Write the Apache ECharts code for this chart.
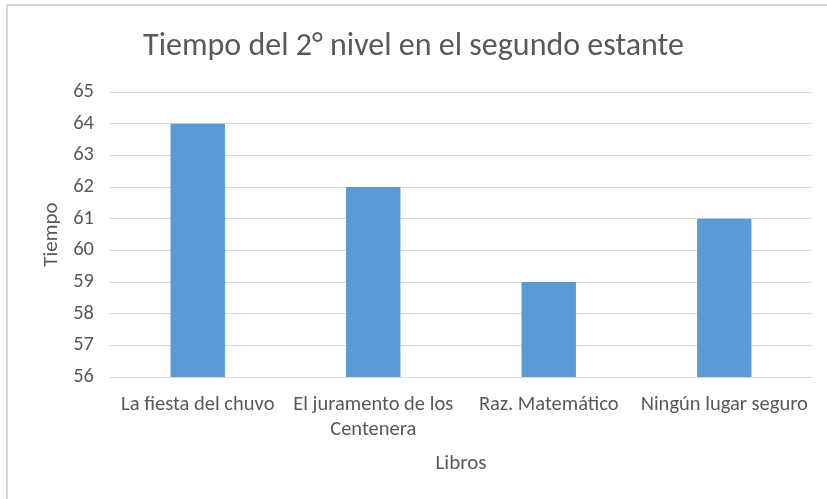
<!DOCTYPE html>
<html>
<head>
<meta charset="utf-8">
<script src="https://cdn.jsdelivr.net/npm/echarts@6/dist/echarts.min.js"></script>
<style>
html,body{margin:0;padding:0;background:#fff;}
#chart{width:827px;height:499px;}
</style>
</head>
<body>
<div id="chart"></div>
<script>
const categories = ["La fiesta del chuvo", "El juramento de los\nCentenera", "Raz. Matemático", "Ningún lugar seguro"];
const values = [64, 62, 59, 61];
const titleText = "Tiempo del 2° nivel en el segundo estante";
const yAxisName = "Tiempo";
const xAxisName = "Libros";

const font = "Carlito, 'Liberation Sans Narrow', 'Open Sans', sans-serif";
const chart = echarts.init(document.getElementById('chart'), null, {renderer: 'canvas'});
chart.setOption({
  animation: false,
  backgroundColor: '#fff',
  graphic: [{
    type: 'rect',
    shape: {x: 7, y: 5, width: 900, height: 600},
    style: {fill: 'none', stroke: '#d9d9d9', lineWidth: 2},
    silent: true
  }],
  title: {
    text: titleText,
    left: 'center',
    top: 26,
    textStyle: {fontFamily: font, fontSize: 32, fontWeight: 'normal', color: '#595959'}
  },
  grid: {left: 110, right: 15, top: 92, bottom: 122},
  xAxis: {
    type: 'category',
    data: categories,
    name: xAxisName,
    nameLocation: 'middle',
    nameGap: 76,
    nameTextStyle: {fontFamily: font, fontSize: 21, color: '#595959'},
    axisLine: {lineStyle: {color: '#d9d9d9'}},
    axisTick: {show: false},
    axisLabel: {fontFamily: font, fontSize: 20.5, color: '#595959', margin: 15, interval: 0, lineHeight: 25}
  },
  yAxis: {
    type: 'value',
    min: 56,
    max: 65,
    interval: 1,
    name: yAxisName,
    nameLocation: 'middle',
    nameGap: 47,
    nameTextStyle: {fontFamily: font, fontSize: 21, color: '#595959'},
    axisLine: {show: false},
    axisTick: {show: false},
    axisLabel: {fontFamily: font, fontSize: 20.5, color: '#595959', margin: 16},
    splitLine: {lineStyle: {color: '#d9d9d9'}}
  },
  series: [{
    type: 'bar',
    data: values,
    barWidth: '31%',
    itemStyle: {color: '#5b9bd5'}
  }]
});
</script>
</body>
</html>
